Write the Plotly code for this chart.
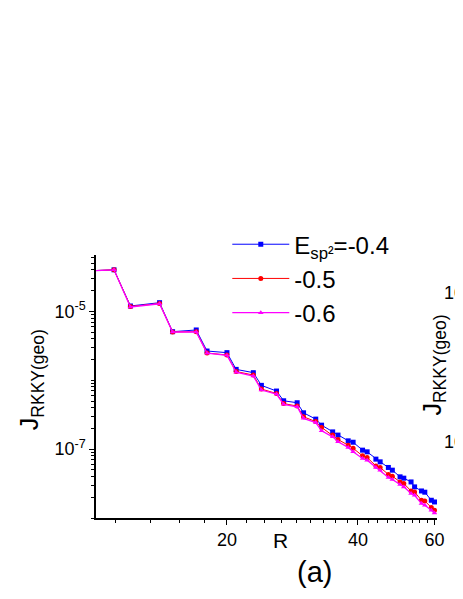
import plotly.graph_objects as go

# separation R (lattice units); first point sits just left of the axis range
r_vals = [9, 11, 12, 14, 15, 17, 18, 20, 21, 23, 24, 26, 27, 29, 30, 32, 33, 35,
          36, 38, 39, 41, 42, 44, 45, 47, 48, 50, 51, 53, 54, 56, 57, 59, 60]

j_04 = [3.82e-5, 4.02e-5, 1.20e-5, 1.34e-5, 5.08e-6, 5.38e-6, 2.66e-6, 2.52e-6,
        1.44e-6, 1.29e-6, 8.44e-7, 6.98e-7, 5.04e-7, 4.72e-7, 3.37e-7, 2.73e-7,
        2.23e-7, 1.78e-7, 1.60e-7, 1.32e-7, 1.26e-7, 9.67e-8, 9.14e-8, 7.16e-8,
        6.54e-8, 5.42e-8, 4.95e-8, 3.96e-8, 3.79e-8, 3.34e-8, 2.83e-8, 2.47e-8,
        2.37e-8, 1.81e-8, 1.71e-8]
j_05 = [3.82e-5, 4.02e-5, 1.18e-5, 1.30e-5, 5.03e-6, 5.08e-6, 2.49e-6, 2.33e-6,
        1.34e-6, 1.19e-6, 7.46e-7, 6.42e-7, 4.59e-7, 4.22e-7, 2.95e-7, 2.51e-7,
        2.07e-7, 1.60e-7, 1.38e-7, 1.14e-7, 1.03e-7, 7.99e-8, 7.57e-8, 5.71e-8,
        5.42e-8, 4.29e-8, 4.05e-8, 3.34e-8, 3.17e-8, 2.47e-8, 2.39e-8, 1.81e-8,
        1.77e-8, 1.42e-8, 1.30e-8]
j_06 = [3.82e-5, 4.02e-5, 1.16e-5, 1.29e-5, 5.03e-6, 5.03e-6, 2.47e-6, 2.31e-6,
        1.31e-6, 1.15e-6, 7.22e-7, 6.31e-7, 4.47e-7, 4.12e-7, 2.80e-7, 2.43e-7,
        1.85e-7, 1.51e-7, 1.28e-7, 1.06e-7, 9.14e-8, 7.33e-8, 6.92e-8, 5.42e-8,
        4.95e-8, 3.88e-8, 3.63e-8, 3.07e-8, 2.83e-8, 2.27e-8, 2.14e-8, 1.62e-8,
        1.53e-8, 1.30e-8, 1.18e-8]

x_ticks = [20, 40, 60]
x_minor = [11.11, 13.33, 15.56, 17.78, 22.22, 24.44, 26.67, 28.89, 31.11, 33.33,
           35.56, 37.78, 42.22, 44.44, 46.67, 48.89, 51.11, 53.33, 55.56, 57.78]
y_ticks = [1e-7, 1e-5]
y_ticktext = ["10<sup>-7</sup>", "10<sup>-5</sup>"]
y_minor = [m * 10.0 ** e for e in (-8, -7, -6, -5) for m in range(1, 10)
           if not (m == 1 and e in (-7, -5))]

FONT = "Arial, Liberation Sans, sans-serif"

series = [
    ("E<sub>sp²</sub>=-0.4", j_04, "#0000ff", "square", 1),
    ("-0.5", j_05, "#ff0000", "circle", 1),
    ("-0.6", j_06, "#ff00ff", "triangle-up", 1.3),
]

fig = go.Figure()
for name, ys, color, sym, lw in series:
    fig.add_trace(go.Scatter(
        x=r_vals, y=ys, mode="lines+markers", name=name,
        line=dict(color=color, width=lw),
        marker=dict(symbol=sym, size=5, color=color, line=dict(width=0)),
    ))

fig.update_xaxes(
    type="log", range=[1, 1.7839],
    tickmode="array", tickvals=x_ticks, ticktext=[str(v) for v in x_ticks],
    ticks="outside", ticklen=5, tickwidth=1.3, tickcolor="black",
    minor=dict(tickmode="array", tickvals=x_minor, ticks="outside", ticklen=3,
               tickwidth=1, tickcolor="black", showgrid=False),
    showline=True, linecolor="black", linewidth=1.5, showgrid=False, zeroline=False,
    tickfont=dict(size=18, color="black", family=FONT),
)
fig.update_yaxes(
    type="log", range=[-8, -4.1805],
    tickmode="array", tickvals=y_ticks, ticktext=y_ticktext,
    ticks="outside", ticklen=5, tickwidth=1.3, tickcolor="black",
    minor=dict(tickmode="array", tickvals=y_minor, ticks="outside", ticklen=3,
               tickwidth=1, tickcolor="black", showgrid=False),
    showline=True, linecolor="black", linewidth=1.5, showgrid=False, zeroline=False,
    tickfont=dict(size=18, color="black", family=FONT),
)

notes = [
    dict(text="R", x=0.54, y=-0.084, font=dict(size=21)),
    dict(text="(a)", x=0.642, y=-0.205, font=dict(size=29)),
    dict(text="J<sub>RKKY(geo)</sub>", x=-0.19, y=0.525, textangle=-90, font=dict(size=25)),
    # neighbouring panel, cut off at the right edge
    dict(text="J<sub>RKKY(geo)</sub>", x=0.99, y=0.582, textangle=-90, font=dict(size=25)),
    dict(text="10", x=1.05, y=0.856, font=dict(size=18)),
    dict(text="10", x=1.05, y=0.289, font=dict(size=18)),
]
for n in notes:
    fig.add_annotation(xref="paper", yref="paper", showarrow=False,
                       xanchor="center", yanchor="middle", **n)
fig.update_annotations(font_family=FONT, font_color="black")

# the page body adds 8px, so margins are trimmed by that much on left/top
fig.update_layout(
    width=463, height=599,
    margin=dict(l=88, r=34, t=247, b=89),
    paper_bgcolor="white", plot_bgcolor="white",
    font=dict(family=FONT, color="black"),
    showlegend=True,
    legend=dict(x=0.385, y=1.125, xanchor="left", yanchor="top",
                font=dict(size=24, family=FONT, color="black"),
                bgcolor="rgba(0,0,0,0)", itemwidth=57, tracegroupgap=0),
)

fig.write_html("out.html")
